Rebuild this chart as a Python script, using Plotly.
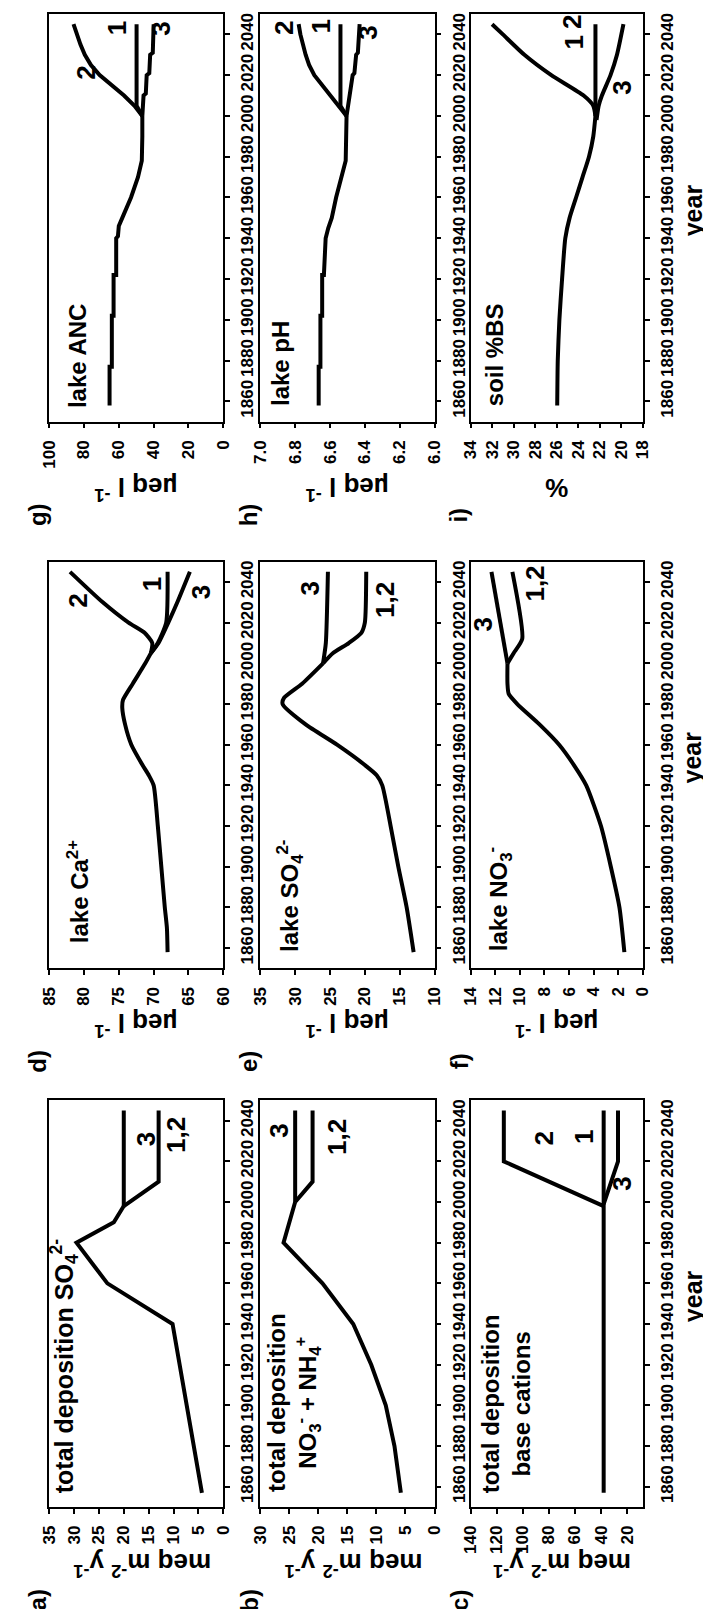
import plotly.graph_objects as go

W, H = 711, 1609

YEAR_TICKS = [1860, 1880, 1900, 1920, 1940, 1960, 1980, 2000, 2020, 2040]
YEAR_RANGE = [1850, 2050]

# ---------------- a) total deposition SO4 ----------------
A_HIST_YEAR = [1857, 1940, 1960, 1980, 1990, 1998]
A_HIST_VAL = [4.3, 10.2, 23.3, 29.5, 22.0, 20.0]
A_S3_YEAR = [1998, 2045]
A_S3_VAL = [20.0, 20.0]
A_S12_YEAR = [1998, 2010, 2045]
A_S12_VAL = [20.0, 13.0, 13.0]

# ---------------- b) total deposition NO3 + NH4 ----------------
B_HIST_YEAR = [1857, 1880, 1900, 1920, 1940, 1960, 1980, 1990, 2000]
B_HIST_VAL = [5.8, 6.9, 8.4, 10.9, 14.0, 19.3, 26.0, 25.0, 24.0]
B_S3_YEAR = [2000, 2045]
B_S3_VAL = [24.0, 24.0]
B_S12_YEAR = [2000, 2010, 2045]
B_S12_VAL = [24.0, 21.0, 21.0]

# ---------------- c) total deposition base cations ----------------
C_S1_YEAR = [1857, 2045]
C_S1_VAL = [38.0, 38.0]
C_S2_YEAR = [1998, 2020, 2045]
C_S2_VAL = [38.0, 114.5, 114.5]
C_S3_YEAR = [1999, 2020, 2045]
C_S3_VAL = [38.0, 27.0, 27.0]

# ---------------- d) lake Ca ----------------
D_HIST_YEAR = [1858, 1870, 1880, 1900, 1920, 1940, 1945, 1950, 1960, 1970, 1978, 1982, 1990, 2000, 2005]
D_HIST_VAL = [68.0, 68.1, 68.4, 68.9, 69.4, 70.0, 70.7, 71.6, 73.2, 74.1, 74.5, 74.4, 73.0, 71.2, 70.4]
D_S2_YEAR = [2005, 2010, 2015, 2020, 2030, 2045]
D_S2_VAL = [70.4, 70.2, 71.3, 73.6, 77.3, 82.0]
D_S1_YEAR = [2005, 2010, 2020, 2045]
D_S1_VAL = [70.4, 69.4, 68.2, 68.0]
D_S3_YEAR = [2005, 2010, 2020, 2030, 2045]
D_S3_VAL = [70.4, 69.3, 67.9, 66.6, 64.8]

# ---------------- e) lake SO4 ----------------
E_HIST_YEAR = [1858, 1880, 1900, 1920, 1940, 1945, 1950, 1960, 1970, 1980, 1983, 1990, 2000]
E_HIST_VAL = [13.0, 14.0, 15.2, 16.3, 17.5, 18.3, 20.0, 24.0, 28.5, 31.8, 31.6, 29.0, 26.0]
E_S3_YEAR = [2000, 2010, 2045]
E_S3_VAL = [26.0, 25.6, 25.3]
E_S12_YEAR = [2000, 2005, 2010, 2015, 2020, 2045]
E_S12_VAL = [26.0, 24.6, 22.3, 20.5, 20.0, 19.8]

# ---------------- f) lake NO3 ----------------
F_HIST_YEAR = [1858, 1880, 1900, 1920, 1940, 1950, 1960, 1970, 1980, 1985, 1990, 2000]
F_HIST_VAL = [1.5, 1.9, 2.6, 3.4, 4.6, 5.6, 6.8, 8.4, 10.2, 10.9, 11.0, 11.0]
F_S3_YEAR = [2000, 2045]
F_S3_VAL = [11.0, 12.3]
F_S12_YEAR = [2000, 2005, 2012, 2045]
F_S12_VAL = [11.0, 10.5, 9.8, 10.6]

# ---------------- g) lake ANC ----------------
G_HIST_YEAR = [1858, 1877, 1877, 1902, 1902, 1922, 1922, 1940, 1941, 1946, 1950, 1960, 1970, 1978, 1990, 2000]
G_HIST_VAL = [65.3, 65.3, 64.0, 64.0, 63.0, 63.0, 61.5, 61.5, 60.5, 60.0, 58.0, 53.0, 49.0, 46.8, 46.5, 46.5]
G_S1_YEAR = [2000, 2005, 2045]
G_S1_VAL = [46.5, 49.8, 49.8]
G_S2_YEAR = [2000, 2005, 2010, 2015, 2020, 2025, 2030, 2035, 2040, 2045]
G_S2_VAL = [46.5, 51.0, 57.0, 64.0, 71.0, 76.0, 79.5, 82.0, 84.0, 86.0]
G_S3_YEAR = [2000, 2010, 2011, 2020, 2021, 2030, 2031, 2045]
G_S3_VAL = [46.5, 45.8, 44.5, 44.0, 42.5, 42.0, 40.5, 40.0]

# ---------------- h) lake pH ----------------
H_HIST_YEAR = [1858, 1877, 1877, 1902, 1902, 1922, 1922, 1940, 1945, 1950, 1960, 1970, 1978, 2000]
H_HIST_VAL = [6.665, 6.665, 6.655, 6.655, 6.645, 6.645, 6.635, 6.625, 6.61, 6.59, 6.565, 6.535, 6.51, 6.505]
H_S1_YEAR = [2000, 2005, 2045]
H_S1_VAL = [6.505, 6.54, 6.54]
H_S2_YEAR = [2000, 2010, 2020, 2025, 2030, 2040, 2045]
H_S2_VAL = [6.505, 6.60, 6.69, 6.72, 6.74, 6.77, 6.78]
H_S3_YEAR = [2000, 2010, 2020, 2021, 2030, 2031, 2045]
H_S3_VAL = [6.505, 6.49, 6.47, 6.46, 6.45, 6.44, 6.43]

# ---------------- i) soil %BS ----------------
I_HIST_YEAR = [1858, 1880, 1900, 1920, 1940, 1950, 1960, 1970, 1980, 1990, 2000]
I_HIST_VAL = [25.95, 25.9, 25.75, 25.5, 25.2, 24.8, 24.2, 23.6, 23.0, 22.6, 22.4]
I_S1_YEAR = [2000, 2045]
I_S1_VAL = [22.4, 22.4]
I_S2_YEAR = [2000, 2005, 2010, 2020, 2030, 2040, 2045]
I_S2_VAL = [22.4, 22.6, 23.5, 26.5, 29.0, 31.0, 32.0]
I_S3_YEAR = [1998, 2005, 2010, 2020, 2030, 2045]
I_S3_VAL = [22.3, 22.1, 21.8, 21.0, 20.4, 19.8]

# value-axis ticks
A_TICKS = [0, 5, 10, 15, 20, 25, 30, 35]
B_TICKS = [0, 5, 10, 15, 20, 25, 30]
C_TICKS = [20, 40, 60, 80, 100, 120, 140]
D_TICKS = [60, 65, 70, 75, 80, 85]
E_TICKS = [10, 15, 20, 25, 30, 35]
F_TICKS = [0, 2, 4, 6, 8, 10, 12, 14]
G_TICKS = [0, 20, 40, 60, 80, 100]
H_TICKS = [6.0, 6.2, 6.4, 6.6, 6.8, 7.0]
I_TICKS = [18, 20, 22, 24, 26, 28, 30, 32, 34]

# panel box pixel geometry (the image is the figure turned on its side)
COLS = [(33, 212), (250, 429), (466, 643)]
ROWS = [(5, 413), (553, 960), (1092, 1499)]

BOLD = "bold"
FONT = "Arial"

PANELS = [
    dict(k=1, letter="a)", col=0, row=2, rng=[35, 0], ticks=A_TICKS, fmt=None,
         series=[(A_HIST_VAL, A_HIST_YEAR), (A_S3_VAL, A_S3_YEAR), (A_S12_VAL, A_S12_YEAR)],
         smooth=False, title="meq m<sup>-2</sup> y<sup>-1</sup>",
         inner=("total deposition SO<sub>4</sub><sup>2-</sup>", 48, 1487, 25),
         labels=[("3", 15.5, 2031), ("1,2", 9.5, 2033)]),
    dict(k=2, letter="b)", col=1, row=2, rng=[30, 0], ticks=B_TICKS, fmt=None,
         series=[(B_HIST_VAL, B_HIST_YEAR), (B_S3_VAL, B_S3_YEAR), (B_S12_VAL, B_S12_YEAR)],
         smooth=False, title="meq m<sup>-2</sup> y<sup>-1</sup>",
         inner=("total deposition<br>NO<sub>3</sub><sup>-</sup> + NH<sub>4</sub><sup>+</sup>", 284, 1486, 24),
         labels=[("3", 26.8, 2035), ("1,2", 16.8, 2032)]),
    dict(k=3, letter="c)", col=2, row=2, rng=[140, 8], ticks=C_TICKS, fmt=None,
         series=[(C_S1_VAL, C_S1_YEAR), (C_S2_VAL, C_S2_YEAR), (C_S3_VAL, C_S3_YEAR)],
         smooth=False, title="meq m<sup>-2</sup> y<sup>-1</sup>",
         inner=("total deposition<br>base cations", 502, 1487, 24),
         labels=[("2", 84, 2031), ("1", 53, 2032), ("3", 24, 2009)]),
    dict(k=4, letter="d)", col=0, row=1, rng=[85, 60], ticks=D_TICKS, fmt=None,
         series=[(D_HIST_VAL, D_HIST_YEAR), (D_S2_VAL, D_S2_YEAR), (D_S1_VAL, D_S1_YEAR), (D_S3_VAL, D_S3_YEAR)],
         smooth=True, title="µeq l <sup>-1</sup>",
         inner=("lake Ca<sup>2+</sup>", 63, 937, 24),
         labels=[("2", 80.8, 2031), ("1", 70.2, 2039), ("3", 63.2, 2035)]),
    dict(k=5, letter="e)", col=1, row=1, rng=[35, 10], ticks=E_TICKS, fmt=None,
         series=[(E_HIST_VAL, E_HIST_YEAR), (E_S3_VAL, E_S3_YEAR), (E_S12_VAL, E_S12_YEAR)],
         smooth=True, title="µeq l <sup>-1</sup>",
         inner=("lake SO<sub>4</sub><sup>2-</sup>", 281, 945, 24),
         labels=[("3", 27.8, 2037), ("1,2", 17.0, 2031)]),
    dict(k=6, letter="f)", col=2, row=1, rng=[14, 0], ticks=F_TICKS, fmt=None,
         series=[(F_HIST_VAL, F_HIST_YEAR), (F_S3_VAL, F_S3_YEAR), (F_S12_VAL, F_S12_YEAR)],
         smooth=True, title="µeq l <sup>-1</sup>",
         inner=("lake NO<sub>3</sub><sup>-</sup>", 496, 945, 24),
         labels=[("3", 13.0, 2019), ("1,2", 8.8, 2039)]),
    dict(k=7, letter="g)", col=0, row=0, rng=[100, 0], ticks=G_TICKS, fmt=None,
         series=[(G_HIST_VAL, G_HIST_YEAR), (G_S1_VAL, G_S1_YEAR), (G_S2_VAL, G_S2_YEAR), (G_S3_VAL, G_S3_YEAR)],
         smooth=False, title="µeq l <sup>-1</sup>",
         inner=("lake ANC", 62, 401, 24),
         labels=[("2", 79, 2021), ("1", 61, 2043), ("3", 35.5, 2043)]),
    dict(k=8, letter="h)", col=1, row=0, rng=[7.0, 6.0], ticks=H_TICKS, fmt=".1f",
         series=[(H_HIST_VAL, H_HIST_YEAR), (H_S1_VAL, H_S1_YEAR), (H_S2_VAL, H_S2_YEAR), (H_S3_VAL, H_S3_YEAR)],
         smooth=False, title="µeq l <sup>-1</sup>",
         inner=("lake pH", 270, 399, 24),
         labels=[("2", 6.86, 2043), ("1", 6.65, 2044), ("3", 6.38, 2041)]),
    dict(k=9, letter="i)", col=2, row=0, rng=[34, 18], ticks=I_TICKS, fmt=None,
         series=[(I_HIST_VAL, I_HIST_YEAR), (I_S1_VAL, I_S1_YEAR), (I_S2_VAL, I_S2_YEAR), (I_S3_VAL, I_S3_YEAR)],
         smooth=True, title="%",
         inner=("soil %BS", 490, 399, 24),
         labels=[("2", 24.6, 2046), ("1", 24.4, 2036), ("3", 19.9, 2014)]),
]


def ax_names(k):
    s = "" if k == 1 else str(k)
    return "xaxis" + s, "yaxis" + s, "x" + s, "y" + s


fig = go.Figure()
annotations = []
layout_axes = {}

for p in PANELS:
    xa, ya, xr, yr = ax_names(p["k"])
    x0, x1 = COLS[p["col"]]
    y0, y1 = ROWS[p["row"]]
    for vals, years in p["series"]:
        fig.add_trace(go.Scatter(
            x=vals, y=years, xaxis=xr, yaxis=yr, mode="lines",
            line=dict(color="black", width=4,
                      shape="spline" if p["smooth"] else "linear",
                      smoothing=0.6 if p["smooth"] else None),
            showlegend=False, hoverinfo="skip"))
    common = dict(showline=True, mirror=True, linecolor="black", linewidth=1.5,
                  ticks="outside", ticklen=5, tickwidth=1.5, tickcolor="black",
                  showgrid=False, zeroline=False, tickangle=-90,
                  tickfont=dict(family=FONT, size=17, color="black", weight=BOLD))
    xcfg = dict(domain=[x0 / W, x1 / W], anchor=yr, range=p["rng"],
                tickvals=p["ticks"], ticklabelstandoff=5, **common)
    if p["fmt"]:
        xcfg["tickformat"] = p["fmt"]
    layout_axes[xa] = xcfg
    layout_axes[ya] = dict(domain=[1 - y1 / H, 1 - y0 / H], anchor=xr, side="right",
                           range=YEAR_RANGE, tickvals=YEAR_TICKS, ticklabelstandoff=3,
                           **common)

    # panel letter
    annotations.append(dict(text=p["letter"], x=(x0 - 12) / W, y=1 - (y1 + 93) / H,
                            xref="paper", yref="paper", showarrow=False, textangle=-90,
                            xanchor="center", yanchor="middle",
                            font=dict(family=FONT, size=24, color="black", weight=BOLD)))
    # value axis title (upside down, as in the turned figure)
    title_dy = {0: 67, 1: 56, 2: 58}[p["row"]]
    title_dx = 6 if p["row"] == 2 else 0
    annotations.append(dict(text=p["title"], x=((x0 + x1) / 2 + title_dx) / W,
                            y=1 - (y1 + title_dy) / H,
                            xref="paper", yref="paper", showarrow=False, textangle=180,
                            xanchor="center", yanchor="middle",
                            font=dict(family=FONT, size=26, color="black", weight=BOLD)))
    # inner panel text
    txt, ix, iy, isz = p["inner"]
    annotations.append(dict(text=txt, x=ix / W, y=1 - iy / H, xref="paper", yref="paper",
                            showarrow=False, textangle=-90, xanchor="center", yanchor="bottom",
                            align="center",
                            font=dict(family=FONT, size=isz, color="black", weight=BOLD)))
    # scenario labels
    for lab, lv, ly in p["labels"]:
        annotations.append(dict(text=lab, x=lv, y=ly, xref=xr, yref=yr, showarrow=False,
                                textangle=-90, xanchor="center", yanchor="middle",
                                font=dict(family=FONT, size=26, color="black", weight=BOLD)))
    # "year" axis title on the right column
    if p["col"] == 2:
        annotations.append(dict(text="year", x=694 / W, y=1 - ((y0 + y1) / 2 - 8) / H,
                                xref="paper", yref="paper", showarrow=False, textangle=-90,
                                xanchor="center", yanchor="middle",
                                font=dict(family=FONT, size=25, color="black", weight=BOLD)))

fig.update_layout(
    width=W, height=H,
    margin=dict(l=0, r=0, t=0, b=0),
    paper_bgcolor="white", plot_bgcolor="white",
    showlegend=False,
    annotations=annotations,
    **layout_axes,
)

fig.write_html("out.html")
